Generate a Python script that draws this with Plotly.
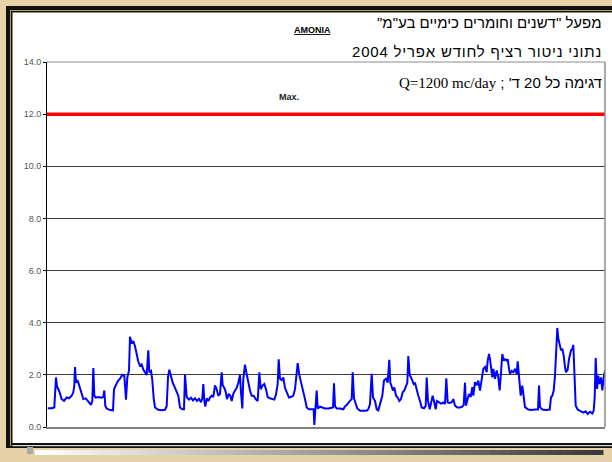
import plotly.graph_objects as go

# ammonia readings, April 2004 (hours since start of month), read week by week
hours_1 = [0.9, 6.1, 9.5, 10.4, 11.7, 13.0, 15.6, 19.1, 22.1, 25.6, 28.6, 32.1, 34.2, 35.5, 36.4, 37.7,
           39.4, 40.7, 42.9, 45.1, 47.2, 50.3, 52.9, 55.0, 57.2, 58.9, 60.2, 61.5, 63.3, 66.7, 70.2, 73.2,
           74.5, 75.8, 78.0, 81.9, 85.8, 87.1, 89.3, 91.9, 94.9, 97.9, 100.5, 102.7, 104.4, 106.6, 107.9,
           110.1, 112.2, 114.4, 116.6, 118.7, 120.9, 123.1, 125.2, 127.4, 129.6, 131.7, 133.0, 135.2,
           136.9, 138.7, 140.4, 144.7, 149.1, 153.4, 155.6, 157.3, 159.0, 161.2, 163.4, 166.4, 169.0,
           170.7, 172.9, 175.9, 178.1, 179.4]
nh3_1 = [0.72, 0.72, 0.75, 1.5, 1.9, 1.55, 1.4, 1.07, 1.0, 1.13, 1.1, 1.2, 1.33, 1.6, 2.3, 1.7,
         1.8, 1.7, 1.5, 1.27, 1.07, 1.1, 1.0, 0.9, 0.85, 1.0, 2.26, 1.2, 1.13, 1.15, 1.12, 1.15,
         1.4, 0.8, 0.7, 0.65, 0.64, 1.45, 1.6, 1.75, 1.85, 2.0, 1.97, 1.05, 1.9, 2.17, 3.46,
         3.2, 3.3, 3.1, 2.8, 2.5, 2.35, 2.4, 2.2, 2.1, 2.0, 2.94, 2.1, 2.15,
         1.8, 1.1, 0.75, 0.66, 0.64, 0.66, 0.8, 1.9, 2.2, 1.95, 1.7, 1.5, 1.35,
         1.2, 0.75, 0.68, 0.68, 2.0]

hours_2 = [181.6, 184.6, 187.2, 189.8, 192.4, 195.0, 197.6, 200.2, 201.9, 203.2, 204.5, 205.8, 207.6,
           209.7, 211.9, 214.1, 216.2, 218.4, 220.6, 222.7, 224.9, 227.1, 228.4, 230.5, 232.3, 234.0,
           236.2, 238.3, 240.1, 242.2, 244.4, 246.6, 248.7, 250.9, 252.2, 253.9, 255.2, 257.4, 259.1,
           261.7, 263.9, 266.1, 268.7, 271.3, 273.9, 276.0, 277.8, 280.4, 282.5, 284.7, 286.9, 289.9,
           292.9, 295.5, 297.7, 299.9, 301.2, 302.9, 305.1, 307.2, 309.4, 311.6, 314.6, 317.2, 320.2,
           322.4, 324.6, 325.9, 328.0, 331.1, 333.2, 335.4, 337.6, 340.6, 344.1, 346.7, 347.5, 348.8,
           350.6, 351.9, 354.9, 357.9, 361.4]
nh3_2 = [1.15, 1.05, 1.12, 1.02, 1.1, 1.0, 1.08, 0.95, 1.1, 1.65, 1.0, 0.78, 1.1,
         1.0, 1.13, 1.2, 1.15, 1.6, 1.45, 1.2, 1.27, 2.1, 1.6, 1.5, 1.35, 1.07,
         1.27, 1.2, 1.0, 1.27, 1.4, 1.5, 1.7, 2.0, 1.33, 0.71, 1.85, 2.39, 2.1,
         1.65, 1.4, 1.2, 1.2, 1.07, 1.0, 2.1, 1.45, 1.6, 1.65, 1.45, 1.15, 1.1,
         1.07, 1.05, 1.25, 1.65, 2.6, 1.85, 1.8, 1.9, 1.5, 1.33, 1.13, 1.15, 1.2,
         1.45, 2.0, 2.45, 2.0, 1.65, 1.33, 1.07, 0.75, 0.68, 0.68, 0.68, 0.08, 0.68,
         1.4, 0.71, 0.78, 0.75, 0.71]

hours_3 = [365.7, 370.1, 371.8, 373.1, 374.4, 376.6, 380.9, 385.2, 387.4, 389.6, 391.7, 393.9, 396.1,
           397.4, 399.1, 401.3, 403.4, 406.9, 411.2, 415.6, 417.7, 419.9, 422.1, 423.8, 426.4, 428.6,
           430.7, 432.5, 434.2, 435.9, 438.1, 440.7, 442.9, 445.0, 446.3, 448.1, 449.8, 451.5, 453.7,
           455.9, 458.0, 460.2, 462.4, 464.5, 466.7, 468.4, 469.7, 471.5, 473.2, 474.9, 476.7, 478.4,
           480.6, 482.7, 484.9, 487.1, 490.1, 492.3, 493.6, 495.3, 497.5, 499.6, 501.4, 503.1, 505.3,
           507.0, 509.6, 512.2, 515.2, 517.4, 519.1, 520.9, 523.5, 526.1, 528.2, 530.4, 533.4, 536.9,
           539.9, 541.7, 543.4]
nh3_3 = [0.71, 0.72, 0.75, 1.68, 0.8, 0.71, 0.71, 0.68, 0.79, 0.84, 0.94, 1.0, 1.07,
         2.1, 1.1, 0.88, 0.71, 0.62, 0.62, 0.62, 0.68, 0.88, 2.04, 1.13, 1.0, 0.68,
         0.64, 0.82, 0.94, 1.2, 1.78, 1.85, 1.7, 2.58, 1.7, 1.55, 1.4, 1.52, 1.2,
         1.13, 1.0, 1.07, 1.33, 1.4, 1.6, 1.7, 2.72, 2.0, 1.9, 1.8, 1.65, 1.7,
         1.4, 1.2, 1.0, 0.75, 0.72, 0.8, 1.9, 1.0, 0.68, 0.94, 1.2, 1.0, 0.68,
         1.0, 0.94, 0.9, 0.94, 0.88, 1.87, 0.94, 0.92, 0.95, 1.07, 0.82, 0.75, 0.75,
         0.78, 0.85, 1.7]

hours_4 = [544.7, 546.9, 548.6, 550.8, 552.9, 554.2, 556.4, 558.6, 560.7, 562.9, 565.1, 567.2, 569.4,
           571.6, 572.9, 574.6, 575.9, 577.2, 578.9, 580.2, 582.4, 584.6, 586.7, 588.5, 590.2, 591.9,
           593.7, 595.4, 597.6, 598.9, 600.6, 601.9, 604.1, 606.2, 608.4, 610.6, 611.9, 613.6, 614.9,
           615.8, 617.9, 619.7, 621.4, 625.7, 630.1, 634.4, 638.3, 639.6, 640.9, 643.9, 648.3, 653.5,
           655.2, 656.9, 658.7, 660.4, 662.1, 663.4, 664.7, 666.5, 668.2, 669.9, 671.7, 673.4, 674.7,
           676.9, 678.6, 681.2, 682.9, 684.2, 685.5, 687.3, 689.9, 692.9, 697.2, 700.3, 702.9, 705.9,
           708.9, 710.7, 712.0, 713.3, 715.0, 716.7, 718.0, 720.2, 721.9, 723.7, 725.4]
nh3_4 = [0.82, 1.08, 1.27, 1.15, 1.53, 1.2, 1.72, 1.6, 1.78, 1.4, 1.85, 2.23, 2.3,
         2.1, 2.55, 2.8, 2.6, 2.36, 1.9, 2.23, 1.85, 2.17, 1.9, 1.4, 2.36, 2.8,
         2.55, 2.6, 2.55, 2.6, 2.23, 2.04, 2.15, 2.1, 2.23, 2.04, 2.52, 1.85, 1.5,
         1.2, 1.59, 1.08, 0.76, 0.67, 0.65, 0.67, 0.67, 1.59, 0.76, 0.67, 0.65, 0.67,
         1.14, 1.2, 1.4, 1.97, 2.87, 3.8, 3.4, 3.19, 2.94, 3.0, 2.74, 2.3, 2.1,
         2.2, 2.6, 2.94, 3.0, 3.15, 1.85, 0.82, 0.67, 0.63, 0.55, 0.6, 0.5, 0.58,
         0.52, 0.63, 1.14, 2.65, 1.46, 1.97, 1.65, 1.9, 1.4, 1.9, 2.17]

limit_max = 12.0
month_span = [0.0, 725.4]
y_ticks = [0.0, 2.0, 4.0, 6.0, 8.0, 10.0, 12.0, 14.0]

hours = hours_1 + hours_2 + hours_3 + hours_4
nh3 = nh3_1 + nh3_2 + nh3_3 + nh3_4

W, H = 612, 462
L, R, T, B = 47, 7, 62, 35
PW, PH = W - L - R, H - T - B


def px(x):
    return (x - L) / PW


def py(y):
    return (H - B - y) / PH


SANS = "Liberation Sans, Arial, DejaVu Sans, sans-serif"
SERIF = "Liberation Serif, Times New Roman, serif"
RLE, PDF = "\u202b", "\u202c"

fig = go.Figure()
fig.add_trace(go.Scatter(x=month_span, y=[limit_max, limit_max], mode="lines",
                         line=dict(color="#ff0000", width=3.5), hoverinfo="skip"))
fig.add_trace(go.Scatter(x=hours, y=nh3, mode="lines",
                         line=dict(color="#0000ff", width=2)))

shapes = []


def rect(x0, y0, x1, y1, color):
    shapes.append(dict(type="rect", xref="paper", yref="paper", layer="below",
                       x0=px(x0), x1=px(x1), y0=py(y0), y1=py(y1),
                       fillcolor=color, line=dict(width=0)))


# slide frame
rect(6, 6, 625, 448, "#111111")
rect(10, 10, 625, 446, "#b89a55")
rect(11, 11, 625, 445.5, "#111111")
rect(12.5, 12.5, 625, 443, "#ffffff")
rect(12.5, 445, 625, 446.2, "#d8d8d8")
rect(27, 447, 33, 454, "#a8a8a8")
steps = 60
for i in range(steps):
    g = int(255 - (255 - 58) * i / (steps - 1))
    rect(35 + i * (603 - 35) / steps, 450, 35 + (i + 1) * (603 - 35) / steps + 0.5, 455,
         f"rgb({g},{g},{g})")

# plot border top / right
shapes.append(dict(type="line", xref="paper", yref="paper", x0=0, x1=1, y0=1, y1=1,
                   line=dict(color="#8c8c8c", width=1.2)))
shapes.append(dict(type="line", xref="paper", yref="paper", x0=1, x1=1, y0=0, y1=1,
                   line=dict(color="#8c8c8c", width=1.5)))

annotations = [
    dict(text=RLE + "מפעל \"דשנים וחומרים כימיים בע\"מ\"" + PDF, x=px(604), y=py(22),
         xanchor="right", yanchor="middle", font=dict(family=SANS, size=15, color="#000")),
    dict(text="<span style='letter-spacing:0.8px'>" + RLE + "נתוני ניטור רציף לחודש אפריל 2004" + PDF
         + "</span>", x=px(604), y=py(52),
         xanchor="right", yanchor="middle", font=dict(family=SANS, size=15, color="#000")),
    dict(text="<b><span style='text-decoration:underline'>AMONIA</span></b>", x=px(312), y=py(30),
         xanchor="center", yanchor="middle", font=dict(family=SANS, size=9, color="#000")),
    dict(text=RLE + "דגימה כל 20 ד' ; <span style='font-family:" + SERIF + "'>Q=1200 mc/day</span>" + PDF,
         x=px(604), y=py(82), xanchor="right", yanchor="middle",
         font=dict(family=SANS, size=15, color="#000")),
    dict(text="<b>Max.</b>", x=px(289), y=py(97), xanchor="center", yanchor="middle",
         font=dict(family=SANS, size=9, color="#222")),
]
for a in annotations:
    a.update(xref="paper", yref="paper", showarrow=False)

fig.update_layout(
    width=W, height=H,
    margin=dict(l=L, r=R, t=T, b=B, pad=0),
    paper_bgcolor="#e6d2a6",
    plot_bgcolor="rgba(0,0,0,0)",
    showlegend=False,
    shapes=shapes,
    annotations=annotations,
)
fig.update_xaxes(range=month_span, showticklabels=False, ticks="", showgrid=False,
                 zeroline=False, showline=True, linecolor="#808080", linewidth=2)
fig.update_yaxes(range=[0, 14], tickvals=y_ticks, tickformat=".1f", ticks="outside",
                 ticklen=3, tickcolor="#000", showgrid=True, gridcolor="#3a3a3a", gridwidth=1,
                 zeroline=False, showline=True, linecolor="#000", linewidth=1,
                 tickfont=dict(family=SANS, size=9, color="#555"))

config = {'displayModeBar': False}
fig.write_html("out.html", config=config, post_script="document.body.style.margin='0';")
